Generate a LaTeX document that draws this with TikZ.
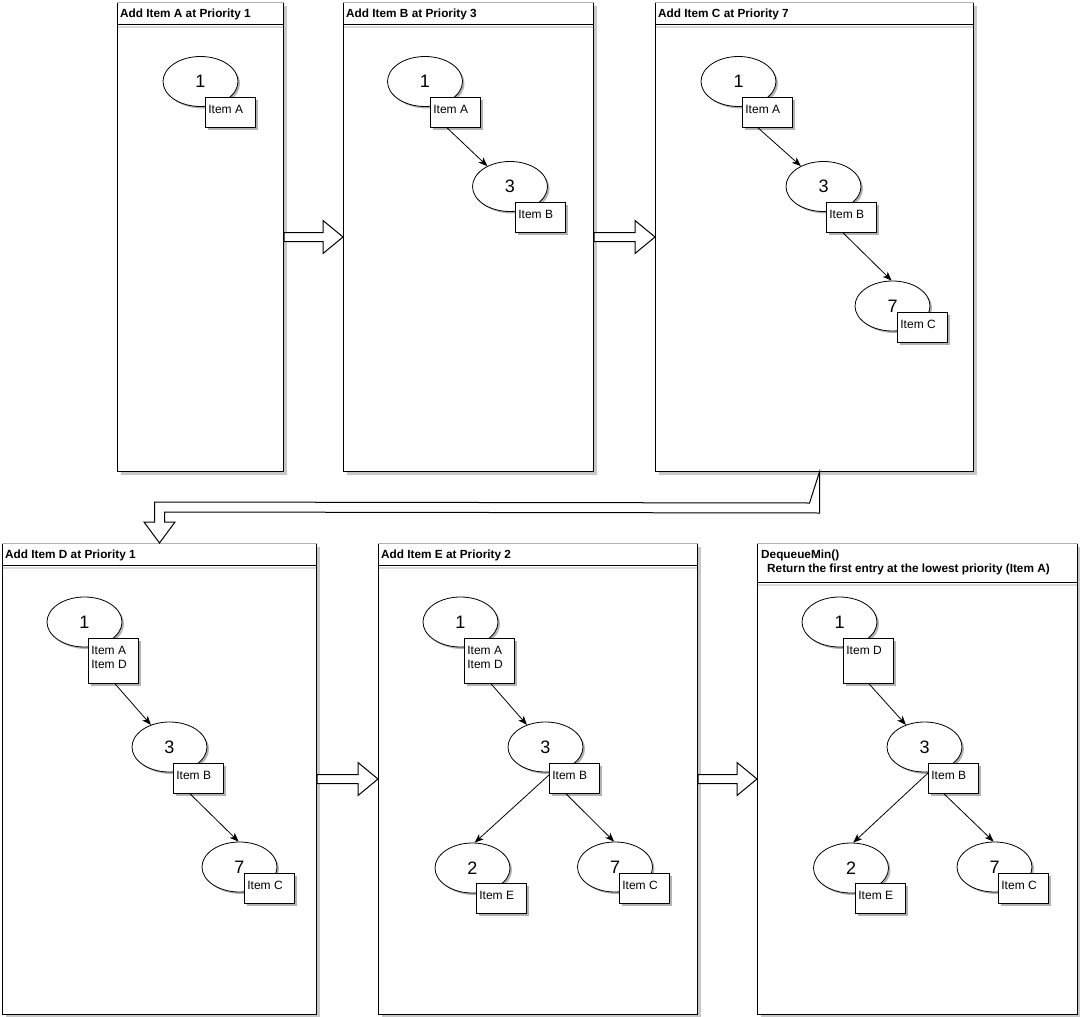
\documentclass[tikz,border=0pt]{standalone}
\usepackage{fontspec}
\setmainfont{Liberation Sans}
\usetikzlibrary{shapes.geometric,shadows,arrows.meta,calc}
\newcommand\itemtxt[2]{\parbox[c][#1][t]{44pt}{\rule{0pt}{13pt}#2}}
\begin{document}
\begin{tikzpicture}[x=1pt,y=-1pt,
 panel/.style={draw, line width=1pt, fill=white, anchor=north west, inner sep=0pt,
   drop shadow={shadow xshift=3pt,shadow yshift=-3pt,fill=black,opacity=0.22}},
 ptitle/.style={anchor=base west, inner sep=0pt, font=\fontsize{11.8}{14}\selectfont\bfseries},
 num/.style={ellipse, draw, line width=0.8pt, fill=white, minimum width=75pt, minimum height=50pt,
   inner sep=0pt, font=\fontsize{18}{20}\selectfont,
   drop shadow={shadow xshift=2pt,shadow yshift=-2pt,fill=black,opacity=0.3}},
 itembox/.style={draw, line width=0.8pt, fill=white, anchor=north west, inner sep=3pt,
   font=\fontsize{12}{14}\selectfont,
   drop shadow={shadow xshift=2.5pt,shadow yshift=-2.5pt,fill=black,opacity=0.3}},
 conn/.style={draw, line width=0.8pt, -{Stealth[length=9pt,width=7pt,inset=2.5pt]}},
 barrow/.style={draw, line width=1pt, fill=white, line join=miter},
 topedge/.style={draw=black!30, line width=1pt},
 hdr/.style={draw, line width=1pt},
 hdrshadow/.style={draw=black!14, line width=2pt},
]
\useasboundingbox[fill=white] (0,0) rectangle (1080,1017);

% panels
\node[panel, minimum width=166pt, minimum height=469pt] (pA) at (117,2) {};
\node[panel, minimum width=250pt, minimum height=469pt] (pB) at (343,2) {};
\node[panel, minimum width=318pt, minimum height=469pt] (pC) at (655,2) {};
\node[panel, minimum width=314pt, minimum height=471pt] (pD) at (2,543) {};
\node[panel, minimum width=319pt, minimum height=471pt] (pE) at (378,543) {};
\node[panel, minimum width=320pt, minimum height=471pt] (pF) at (757,543) {};

\foreach \p/\h in {pA/22,pB/22,pC/22,pD/22,pE/22,pF/39}{
  \draw[hdrshadow] ($(\p.north west)+(1,\h+2.5)$) -- ($(\p.north east)+(-1,\h+2.5)$);
  \draw[hdr] ($(\p.north west)+(0,\h)$) -- ($(\p.north east)+(0,\h)$);
  \draw[topedge] (\p.north west) -- (\p.north east);
}

% titles
\node[ptitle] (tA) at ($(pA.north west)+(3,15.5)$) {Add Item A at Priority 1};
\node[ptitle] (tB) at ($(pB.north west)+(3,15.5)$) {Add Item B at Priority 3};
\node[ptitle] (tC) at ($(pC.north west)+(3,15.5)$) {Add Item C at Priority 7};
\node[ptitle] (tD) at ($(pD.north west)+(3,15.5)$) {Add Item D at Priority 1};
\node[ptitle] (tE) at ($(pE.north west)+(3,15.5)$) {Add Item E at Priority 2};
\node[ptitle] (tF1) at ($(pF.north west)+(4,15.5)$) {DequeueMin()};
\node[ptitle] (tF2) at ($(pF.north west)+(10,29.5)$) {Return the first entry at the lowest priority (Item A)};

% block arrows
\draw[barrow] ($(pA.east)+(0,-4.5)$) -- ($(pB.west)+(-20,-4.5)$) -- ($(pB.west)+(-20,-16.5)$) -- (pB.west)
  -- ($(pB.west)+(-20,16.5)$) -- ($(pB.west)+(-20,4.5)$) -- ($(pA.east)+(0,4.5)$) -- cycle;
\draw[barrow] ($(pB.east)+(0,-4.5)$) -- ($(pC.west)+(-20,-4.5)$) -- ($(pC.west)+(-20,-16.5)$) -- (pC.west)
  -- ($(pC.west)+(-20,16.5)$) -- ($(pC.west)+(-20,4.5)$) -- ($(pB.east)+(0,4.5)$) -- cycle;
\draw[barrow] ($(pD.east)+(0,-4.5)$) -- ($(pE.west)+(-20,-4.5)$) -- ($(pE.west)+(-20,-16.5)$) -- (pE.west)
  -- ($(pE.west)+(-20,16.5)$) -- ($(pE.west)+(-20,4.5)$) -- ($(pD.east)+(0,4.5)$) -- cycle;
\draw[barrow] ($(pE.east)+(0,-4.5)$) -- ($(pF.west)+(-20,-4.5)$) -- ($(pF.west)+(-20,-16.5)$) -- (pF.west)
  -- ($(pF.west)+(-20,16.5)$) -- ($(pF.west)+(-20,4.5)$) -- ($(pE.east)+(0,4.5)$) -- cycle;
\draw[barrow] ($(pC.south)+(5,0)$) -- ($(pC.south)+(5,41)$) -- ($(pD.north)+(5,-31)$) -- ($(pD.north)+(5,-21)$)
  -- ($(pD.north)+(15.5,-21)$) -- (pD.north) -- ($(pD.north)+(-15.5,-21)$) -- ($(pD.north)+(-5,-21)$)
  -- ($(pD.north)+(-5,-41)$) -- ($(pC.south)+(-5,31)$) -- cycle;

% panel A
\node[num] (a1) at (200.5,81.5) {1};
\node[itembox] (a1i) at (205,97) {\itemtxt{24pt}{Item A}};

% panel B
\node[num] (b1) at (425,81.5) {1};
\node[itembox] (b1i) at (430,97) {\itemtxt{24pt}{Item A}};
\node[num] (b3) at (510,186.5) {3};
\node[itembox] (b3i) at (515,202) {\itemtxt{24pt}{Item B}};
\draw[conn] ($(b1i.south west)+(17,0)$) -- (b3.138);

% panel C
\node[num] (c1) at (738.5,81.5) {1};
\node[itembox] (c1i) at (742,97) {\itemtxt{24pt}{Item A}};
\node[num] (c3) at (823.5,186.5) {3};
\node[itembox] (c3i) at (826,202) {\itemtxt{24pt}{Item B}};
\node[num] (c7) at (892.5,306) {7};
\node[itembox] (c7i) at (897,312) {\itemtxt{24pt}{Item C}};
\draw[conn] ($(c1i.south west)+(16,0)$) -- (c3.138);
\draw[conn] ($(c3i.south west)+(17,0)$) -- (c7.92);

% panel D
\node[num] (d1) at (84.5,622) {1};
\node[itembox] (d1i) at (88,638) {\itemtxt{39pt}{Item A\\Item D}};
\node[num] (d3) at (169.5,747) {3};
\node[itembox] (d3i) at (173,763) {\itemtxt{24pt}{Item B}};
\node[num] (d7) at (239.5,867) {7};
\node[itembox] (d7i) at (244,873) {\itemtxt{24pt}{Item C}};
\draw[conn] ($(d1i.south west)+(27,0)$) -- (d3.130);
\draw[conn] ($(d3i.south west)+(17,0)$) -- (d7.92);

% panel E
\node[num] (e1) at (460.5,622) {1};
\node[itembox] (e1i) at (464,638) {\itemtxt{39pt}{Item A\\Item D}};
\node[num] (e3) at (545.5,747) {3};
\node[itembox] (e3i) at (549,763) {\itemtxt{24pt}{Item B}};
\node[num] (e2) at (472.5,868) {2};
\node[itembox] (e2i) at (476,883) {\itemtxt{24pt}{Item E}};
\node[num] (e7) at (615,867) {7};
\node[itembox] (e7i) at (619,873) {\itemtxt{24pt}{Item C}};
\draw[conn] ($(e1i.south west)+(27,0)$) -- (e3.130);
\draw[conn] ($(e3i.north west)+(0,12)$) -- (e2.85);
\draw[conn] ($(e3i.south west)+(17,0)$) -- (e7.92);

% panel F
\node[num] (f1) at (839.5,622) {1};
\node[itembox] (f1i) at (843,638) {\itemtxt{39pt}{Item D}};
\node[num] (f3) at (924.5,747) {3};
\node[itembox] (f3i) at (928,763) {\itemtxt{24pt}{Item B}};
\node[num] (f2) at (851,868) {2};
\node[itembox] (f2i) at (855,883) {\itemtxt{24pt}{Item E}};
\node[num] (f7) at (994.5,867) {7};
\node[itembox] (f7i) at (998,873) {\itemtxt{24pt}{Item C}};
\draw[conn] ($(f1i.south west)+(26,0)$) -- (f3.130);
\draw[conn] ($(f3i.north west)+(0,10)$) -- (f2.85);
\draw[conn] ($(f3i.south west)+(16,0)$) -- (f7.92);
\end{tikzpicture}
\end{document}
